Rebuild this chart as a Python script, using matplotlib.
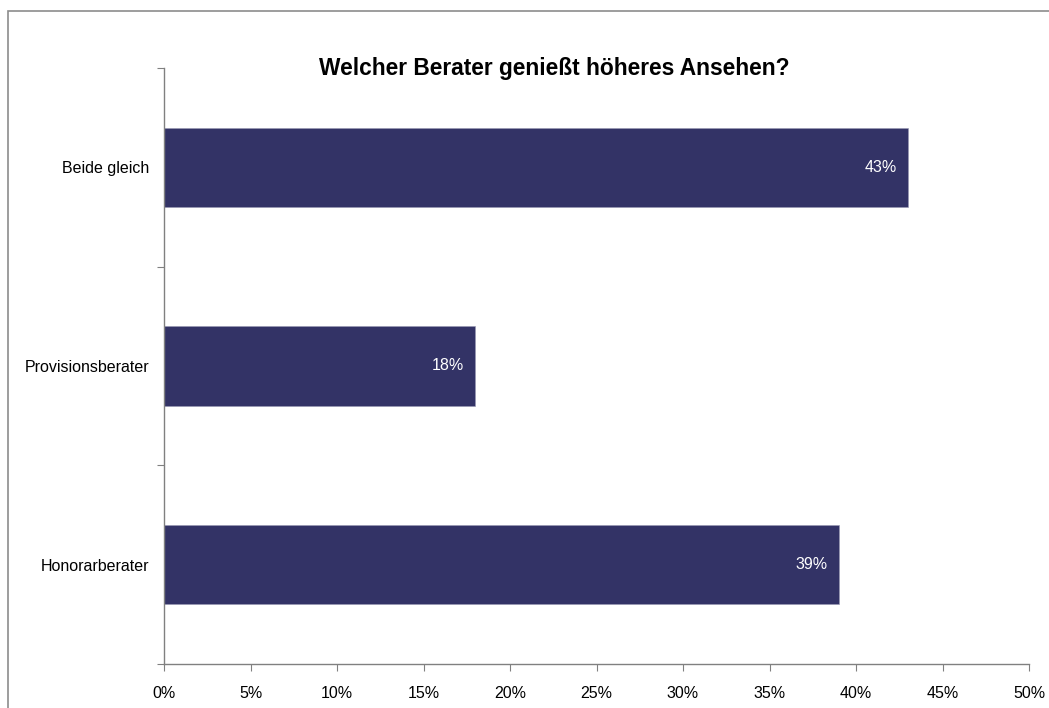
import matplotlib
matplotlib.use("Agg")
import matplotlib.pyplot as plt
from matplotlib.patches import Rectangle
from matplotlib.ticker import FuncFormatter, MultipleLocator

categories = ["Honorarberater", "Provisionsberater", "Beide gleich"]
values = [39, 18, 43]
labels = ["39%", "18%", "43%"]
title = "Welcher Berater genießt höheres Ansehen?"

plt.rcParams['font.family'] = ['Liberation Sans', 'DejaVu Sans']

W, H = 1049, 708
fig = plt.figure(figsize=(W/100, H/100), dpi=100)
ax = fig.add_axes([164/W, 1-664/H, (1029-164)/W, (664-68)/H])

# outer border (partially off-canvas)
fig.patches.append(Rectangle((8/W, -0.1), 1.2, 1-11/H+0.1, transform=fig.transFigure,
                             fill=False, edgecolor='#8c8c8c', linewidth=1.2))

ypos = list(range(len(categories)))
ax.barh(ypos, values, height=0.4, color='#333366', edgecolor='#9999b3', linewidth=0.4)
for y, v, lab in zip(ypos, values, labels):
    ax.annotate(lab, (v, y), xytext=(-8, 0), textcoords='offset points',
                ha='right', va='center', color='white', fontsize=11.5)

ax.set_xlim(0, 50)
ax.set_ylim(-0.5, 2.5)
ax.xaxis.set_major_locator(MultipleLocator(5))
ax.xaxis.set_major_formatter(FuncFormatter(lambda x, p: f"{int(round(x))}%"))
ax.set_yticks([-0.5, 0.5, 1.5, 2.5])
ax.set_yticklabels([])
ax.set_yticks(ypos, minor=True)
ax.set_yticklabels(categories, minor=True)
ax.tick_params(axis='y', which='minor', length=0, pad=10.5, labelsize=11.5)
ax.tick_params(axis='y', which='major', length=5, color='#808080', direction='out')
ax.tick_params(axis='x', length=5, color='#808080', direction='out', labelsize=11.5, pad=10.5)

for s in ['top', 'right']:
    ax.spines[s].set_visible(False)
for s in ['left', 'bottom']:
    ax.spines[s].set_color('#808080')
    ax.spines[s].set_linewidth(1.0)

fig.text(554/W, 1-68/H, title, ha='center', va='center', fontsize=16.4, fontweight='bold')

fig.savefig("out.png", dpi=100)
